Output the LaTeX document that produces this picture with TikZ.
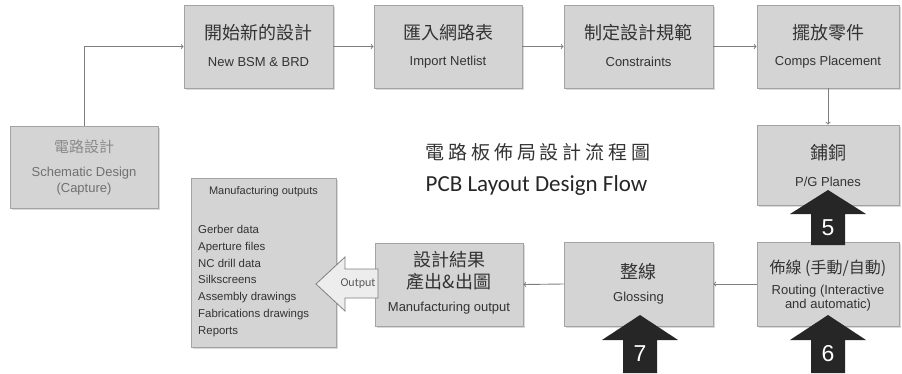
\documentclass[tikz,border=0pt]{standalone}
\usepackage{fontspec}
\setmainfont{Liberation Sans}
\newfontfamily\cjk{Noto Sans CJK TC}
\newfontfamily\cjkwide[LetterSpace=20]{Noto Sans CJK TC}
\newfontfamily\cali{Carlito}
\usetikzlibrary{shadows}

\definecolor{boxfill}{HTML}{D4D4D4}
\definecolor{boxline}{HTML}{A3A3A3}
\definecolor{txt}{HTML}{333333}
\definecolor{txtpale}{HTML}{8A8A8A}
\definecolor{txtmid}{HTML}{707070}
\definecolor{conncol}{HTML}{7F7F7F}
\definecolor{arrowdark}{HTML}{262626}
\definecolor{outfill}{HTML}{EDEDED}

\tikzset{
  box/.style={draw=boxline, fill=boxfill, line width=0.8pt, minimum width=149pt,
    minimum height=83pt, inner sep=0pt,
    drop shadow={shadow xshift=1.5pt, shadow yshift=-1.5pt, opacity=0.3}},
  zh/.style={font=\cjk\fontsize{18}{22}\selectfont, text=txt, inner sep=0pt, align=center},
  en/.style={font=\fontsize{13}{14.5}\selectfont, text=txt, inner sep=0pt, align=center},
  conn/.style={draw=conncol, line width=0.9pt, ->},
  bigarrow/.style={fill=arrowdark},
  num/.style={font=\fontsize{23}{23}\selectfont, text=white, inner sep=0pt}
}

\begin{document}
\begin{tikzpicture}[x=1pt, y=-1pt]

\useasboundingbox (0,0) rectangle (902,373);

\node[box] (sch) at (84,167) [minimum width=148pt, minimum height=82pt] {};
\node[zh, text=txtpale, font=\cjk\fontsize{15}{17}\selectfont] (schA) at (84,147) {電路設計};
\node[en, text=txtmid, font=\fontsize{13}{16}\selectfont] (schB) at (84,181) {Schematic Design\\(Capture)};

\node[box] (newb) at (258.5,46.5) {};
\node[zh] (newbA) at (258.5,33) {開始新的設計};
\node[en] (newbB) at (258.5,62) {New BSM \& BRD};

\node[box] (imp) at (448,46.5) [minimum width=148pt] {};
\node[zh] (impA) at (448,33) {匯入網路表};
\node[en] (impB) at (448,62) {Import Netlist};

\node[box] (cons) at (638.5,46.5) {};
\node[zh] (consA) at (638.5,33) {制定設計規範};
\node[en] (consB) at (638.5,62) {Constraints};

\node[box] (place) at (828,46.5) [minimum width=142pt] {};
\node[zh] (placeA) at (828,33) {擺放零件};
\node[en] (placeB) at (828,62) {Comps Placement};

\node[box] (plane) at (828,165) [minimum width=142pt, minimum height=80pt] {};
\node[zh] (planeA) at (828,153) {鋪銅};
\node[en] (planeB) at (828,182) {P/G Planes};

\node[box] (route) at (828,284) [minimum width=142pt, minimum height=84pt] {};
\node[zh, font=\cjk\fontsize{16}{18}\selectfont] (routeA) at (828,268) {佈線 (手動/自動)};
\node[en] (routeB) at (828,298) {Routing (Interactive\\and automatic)};

\node[box] (gloss) at (638.5,284) [minimum height=84pt] {};
\node[zh] (glossA) at (638.5,272) {整線};
\node[en] (glossB) at (638.5,298) {Glossing};

\node[box] (res) at (449,284.5) [minimum width=148pt] {};
\node[zh] (resA) at (449,271) {設計結果\\產出\&出圖};
\node[en] (resB) at (449,308) {Manufacturing output};

\node[box] (mlist) at (263.5,262.5) [minimum width=145pt, minimum height=169pt] {};
\node[en, font=\fontsize{11}{13}\selectfont] (mlistA) at (263.5,192) {Manufacturing outputs};
\node[en, font=\fontsize{11.4}{16.8}\selectfont, align=left, anchor=north west] (mlistB) at (198,225)
  {Gerber data\\Aperture files\\NC drill data\\Silkscreens\\Assembly drawings\\Fabrications drawings\\Reports};

\node[font=\cjkwide\fontsize{19}{19}\selectfont, text=txt] (title) at (538,152) {電路板佈局設計流程圖};
\node[font=\cali\fontsize{23}{23}\selectfont, text=black!85] (subtitle) at (536.5,185) {PCB Layout Design Flow};

\draw[conn] (sch.north) |- (newb.west);
\draw[conn] (newb.east) -- (imp.west);
\draw[conn] (imp.east) -- (cons.west);
\draw[conn] (cons.east) -- (place.west);
\draw[conn] (place.south) -- (plane.north);
\draw[conn] (route.west) -- (gloss.east);
\draw[conn] (gloss.west) -- (res.east);

\draw[draw=conncol, fill=outfill, line width=0.8pt] (316,284) -- (345,257) -- (345,269) -- (378,269)
  -- (378,298) -- (345,298) -- (345,311) -- cycle;
\node[font=\cali\fontsize{12}{12}\selectfont, text=black!65] (outlbl) at (358,284) {Output};

\fill[bigarrow] (828,190) -- (866,214) -- (845,214) -- (845,245) -- (811,245) -- (811,214) -- (790,214) -- cycle;
\node[num] (n5) at (828,228) {5};

\fill[bigarrow] (828,315) -- (866,340) -- (845,340) -- (845,373) -- (811,373) -- (811,340) -- (790,340) -- cycle;
\node[num] (n6) at (828,354) {6};

\fill[bigarrow] (640,315) -- (678,340) -- (657,340) -- (657,373) -- (623,373) -- (623,340) -- (602,340) -- cycle;
\node[num] (n7) at (640,354) {7};

\end{tikzpicture}
\end{document}
